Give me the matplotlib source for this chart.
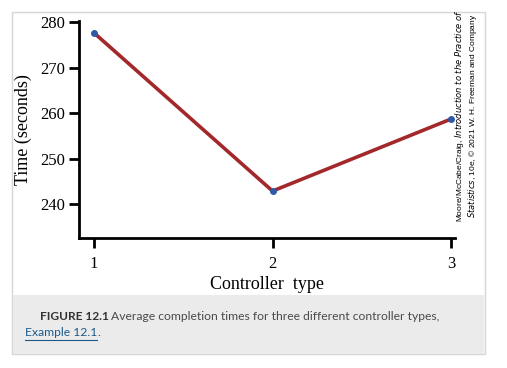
import matplotlib.pyplot as plt
from matplotlib.patches import Rectangle
from matplotlib.lines import Line2D

# data
controller = [1, 2, 3]
times = [277.6, 242.9, 258.7]
xticks = [1, 2, 3]
yticks = [240, 250, 260, 270, 280]

W, H = 507, 368
fig = plt.figure(figsize=(W / 100, H / 100), dpi=100)

def fx(px):
    return px / W

def fy(py):
    return 1 - py / H

# outer panel and caption box
fig.patches.append(Rectangle((fx(12), fy(354)), fx(485) - fx(12), fy(12) - fy(354),
                             transform=fig.transFigure, fill=False,
                             edgecolor='#d6d6d6', linewidth=1, zorder=-2))
fig.patches.append(Rectangle((fx(13), fy(354)), fx(484) - fx(13), fy(295) - fy(354),
                             transform=fig.transFigure, facecolor='#ebebeb',
                             edgecolor='none', zorder=-2))

# axes: left spine x=79, bottom spine y=238, right end x=455, top y=21
ax = fig.add_axes([fx(79), fy(238), fx(455) - fx(79), fy(21) - fy(238)])
ax.plot(controller, times, color='#a3282c', linewidth=2.6, zorder=2)
ax.plot(controller, times, 'o', color='#2f5aa8', markersize=4, zorder=3)

ax.set_xlim(0.916, 3.022)
ax.set_ylim(232.6, 280.2)
ax.set_xticks(xticks)
ax.set_yticks(yticks)
ax.set_xticklabels([str(v) for v in xticks], family='Liberation Serif', fontsize=12)
ax.set_yticklabels([str(v) for v in yticks], family='Liberation Serif', fontsize=12)
ax.spines['top'].set_visible(False)
ax.spines['right'].set_visible(False)
ax.spines['left'].set_linewidth(2)
ax.spines['bottom'].set_linewidth(2)
ax.tick_params(axis='both', width=2, length=7, direction='out')
ax.tick_params(axis='x', pad=6)
ax.tick_params(axis='y', pad=3)
ax.set_xlabel('Controller  type', family='Liberation Serif', fontsize=13, labelpad=3)
ax.set_ylabel('Time (seconds)', family='Liberation Serif', fontsize=13, labelpad=6)
ax.patch.set_visible(False)

# copyright note
fig.text(fx(466), fy(116), 'Moore/McCabe/Craig, $\\it{Introduction\\ to\\ the\\ Practice\\ of}$\n'
         '$\\it{Statistics}$, 10e, \u00a9 2021 W. H. Freeman and Company',
         rotation=90, ha='center', va='center', fontsize=6.0,
         family='Liberation Sans', linespacing=1.05)

# caption
fig.text(fx(40), fy(316), 'FIGURE 12.1', family='Lato', fontweight='bold',
         fontsize=8.6, color='#333333', va='center')
fig.text(fx(111), fy(316), 'Average completion times for three different controller types,',
         family='Lato', fontsize=8.7, color='#4a4a4a', va='center')
fig.text(fx(25), fy(333), 'Example 12.1', family='Lato', fontsize=8.7,
         color='#1d5a8c', va='center')
fig.text(fx(97.5), fy(333), '.', family='Lato', fontsize=8.7, color='#4a4a4a', va='center')
fig.add_artist(Line2D([fx(25), fx(96.5)], [fy(339.5), fy(339.5)], color='#1d5a8c',
                      linewidth=0.8, transform=fig.transFigure))

fig.savefig('out.png', dpi=100)
